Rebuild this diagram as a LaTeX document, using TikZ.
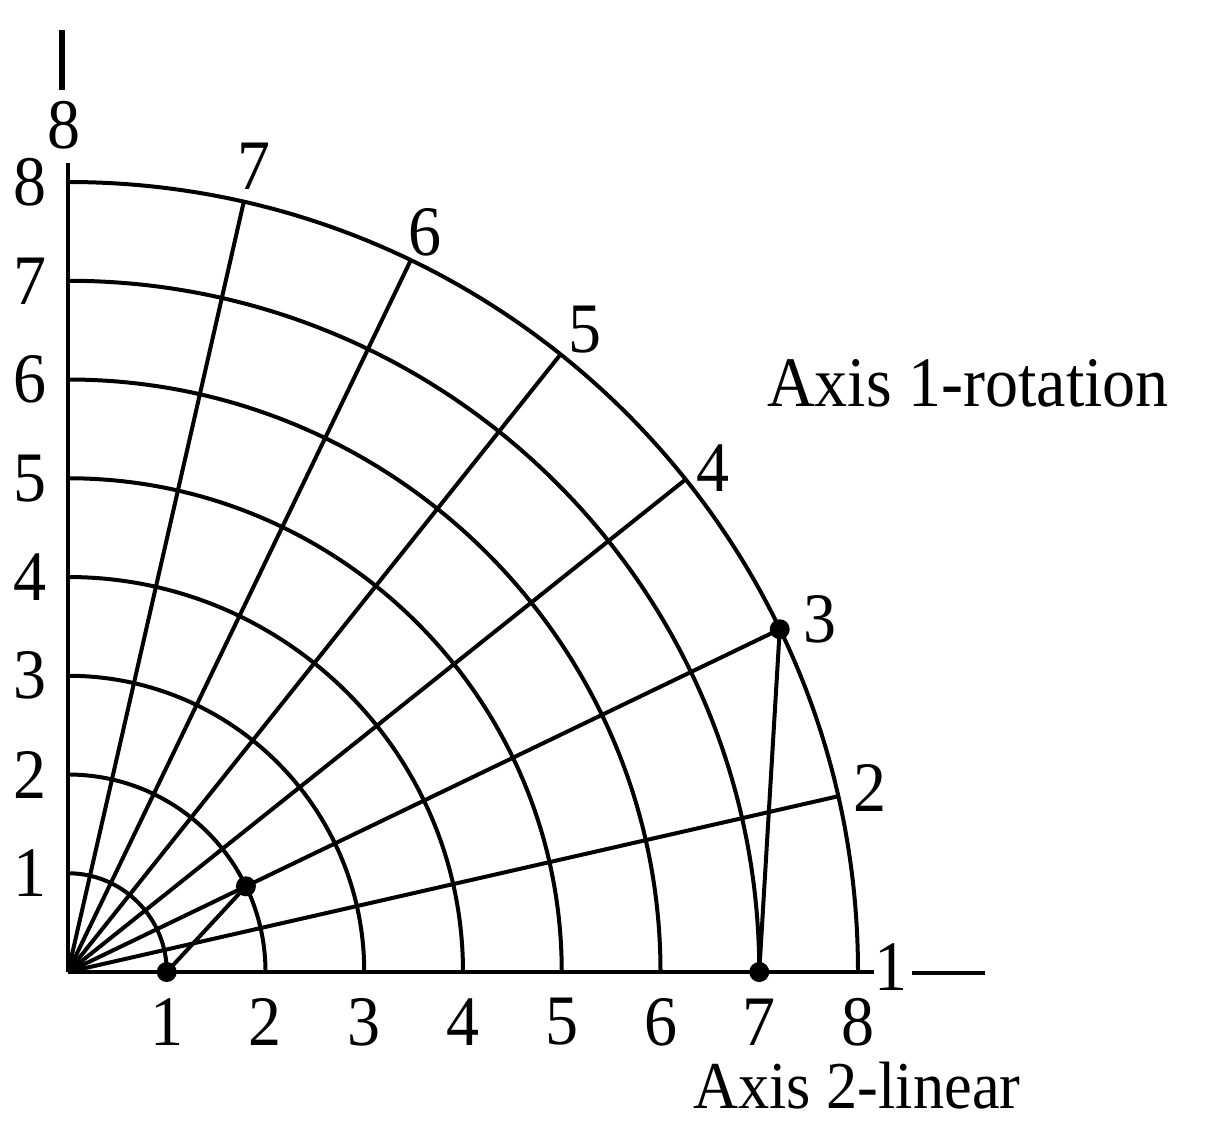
\documentclass[tikz,border=0pt]{standalone}
\usepackage{fontspec}
\setmainfont[FakeStretch=0.93]{Liberation Serif}
\begin{document}
\begin{tikzpicture}[x=1pt,y=-1pt]
\tikzset{
  lab/.style={font=\fontsize{71}{74}\selectfont, inner sep=0pt},
  title/.style={font=\fontsize{67}{70}\selectfont, inner sep=0pt},
  gridline/.style={line width=4pt, line join=round},
  dot/.style={circle, fill=black, inner sep=0pt, minimum size=20pt}
}
\useasboundingbox (0,0) rectangle (1207,1122);
\fill[white] (0,0) rectangle (1207,1122);

\begin{scope}[shift={(68,972)}, x=98.75pt, y=98.75pt]
  \coordinate (O) at (0,0);
  \foreach \r in {1,...,8}
    \draw[gridline] (\r,0) arc[start angle=0, end angle=90, radius=\r];
  \foreach \k in {1,...,6}
    \draw[gridline] (O) -- ({\k*90/7}:8) coordinate (s\k);
  \coordinate (xend) at (8.16,0);
  \coordinate (yend) at (0,8.19);
  \draw[gridline] (O) -- (xend);
  \draw[gridline] (O) -- (yend);
  \node[dot] (p1) at (1,0) {};
  \node[dot] (p2) at ({2*90/7}:2) {};
  \node[dot] (p3) at (7,0) {};
  \node[dot] (p4) at ({2*90/7}:8) {};
  \draw[gridline] (p1.center) -- (p2.center);
  \draw[gridline] (p3.center) -- (p4.center);
\end{scope}

% radial scale labels (left)
\foreach \k in {1,...,8}
  \node[lab] (ly\k) at (30,{972-98.75*\k}) {\k};
% linear scale labels (bottom)
\foreach \k in {1,...,8}
  \node[lab] (lx\k) at ({68+98.75*\k},1022) {\k};

% spoke labels
\node[lab] (a8) at (64,125) {8};
\node[lab] (a7) at (254,166) {7};
\node[lab] (a6) at (425,232) {6};
\node[lab] (a5) at (585,330) {5};
\node[lab] (a4) at (713,468) {4};
\node[lab] (a3) at (820,619) {3};
\node[lab] (a2) at (870,788) {2};
\node[lab] (a1) at (891,967) {1};

% short bars
\coordinate (tb1) at (62,30);
\coordinate (tb2) at (62,90);
\draw[line width=6pt] (tb1) -- (tb2);
\coordinate (rb1) at (912,973);
\coordinate (rb2) at (985,973);
\draw[line width=4pt] (rb1) -- (rb2);

% axis titles
\node[lab] (ax1) at (968,383) {Axis 1-rotation};
\node[title] (ax2) at (857,1086) {Axis 2-linear};
\end{tikzpicture}
\end{document}
